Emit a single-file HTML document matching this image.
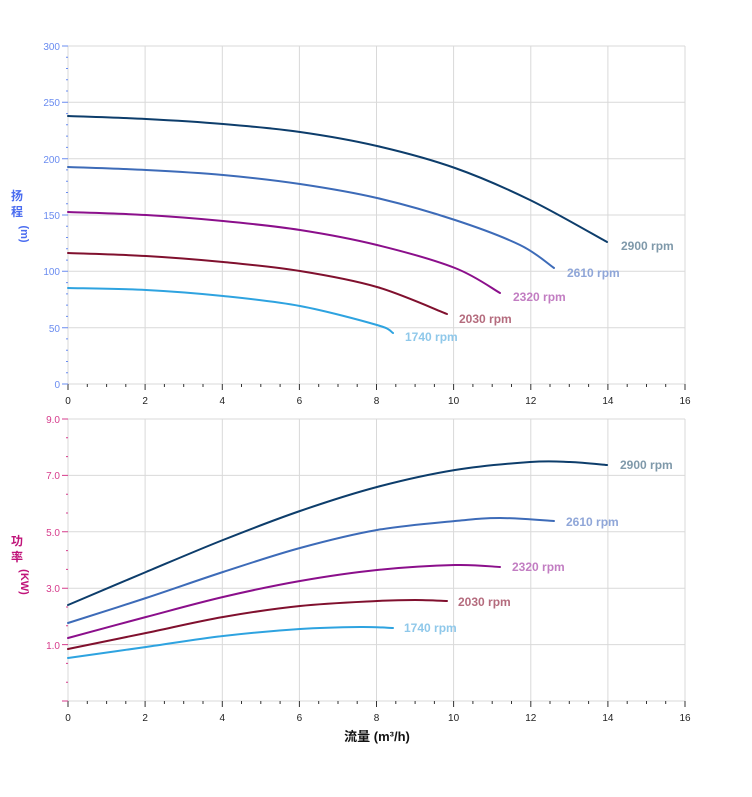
<!DOCTYPE html><html><head><meta charset="utf-8"><style>body{margin:0;background:#fff}svg{display:block;font-family:"Liberation Sans","Noto Sans CJK SC",sans-serif}</style></head><body>
<svg id="s" width="752" height="797" viewBox="0 0 752 797">
<g stroke="#d9d9d9" stroke-width="1">
<line x1="68" y1="46" x2="685" y2="46"/><line x1="68" y1="102.3" x2="685" y2="102.3"/><line x1="68" y1="158.7" x2="685" y2="158.7"/><line x1="68" y1="215" x2="685" y2="215"/><line x1="68" y1="271.3" x2="685" y2="271.3"/><line x1="68" y1="327.7" x2="685" y2="327.7"/><line x1="68" y1="384" x2="685" y2="384"/>
<line x1="68" y1="419" x2="685" y2="419"/><line x1="68" y1="475.4" x2="685" y2="475.4"/><line x1="68" y1="531.8" x2="685" y2="531.8"/><line x1="68" y1="588.2" x2="685" y2="588.2"/><line x1="68" y1="644.6" x2="685" y2="644.6"/><line x1="68" y1="701" x2="685" y2="701"/>
<path d="M68 46V384M145.1 46V384M222.3 46V384M299.4 46V384M376.5 46V384M453.6 46V384M530.8 46V384M607.9 46V384M685 46V384"/>
<path d="M68 419V701M145.1 419V701M222.3 419V701M299.4 419V701M376.5 419V701M453.6 419V701M530.8 419V701M607.9 419V701M685 419V701"/>
</g>
<g stroke="#333" stroke-width="1">
<path d="M68 384v6M87.3 384v3M106.6 384v3M125.8 384v3M145.1 384v6M164.4 384v3M183.7 384v3M203 384v3M222.3 384v6M241.5 384v3M260.8 384v3M280.1 384v3M299.4 384v6M318.7 384v3M338 384v3M357.2 384v3M376.5 384v6M395.8 384v3M415.1 384v3M434.4 384v3M453.6 384v6M472.9 384v3M492.2 384v3M511.5 384v3M530.8 384v6M550 384v3M569.3 384v3M588.6 384v3M607.9 384v6M627.2 384v3M646.5 384v3M665.7 384v3M685 384v6"/>
<path d="M68 701v6M87.3 701v3M106.6 701v3M125.8 701v3M145.1 701v6M164.4 701v3M183.7 701v3M203 701v3M222.3 701v6M241.5 701v3M260.8 701v3M280.1 701v3M299.4 701v6M318.7 701v3M338 701v3M357.2 701v3M376.5 701v6M395.8 701v3M415.1 701v3M434.4 701v3M453.6 701v6M472.9 701v3M492.2 701v3M511.5 701v3M530.8 701v6M550 701v3M569.3 701v3M588.6 701v3M607.9 701v6M627.2 701v3M646.5 701v3M665.7 701v3M685 701v6"/>
</g>
<g stroke="#6a8cf0" stroke-width="1">
<path d="M62 46h6M66 57.3h2M66 68.5h2M66 79.8h2M66 91h2M62 102.3h6M66 113.6h2M66 124.8h2M66 136.1h2M66 147.4h2M62 158.7h6M66 169.9h2M66 181.2h2M66 192.5h2M66 203.7h2M62 215h6M66 226.3h2M66 237.5h2M66 248.8h2M66 260.1h2M62 271.3h6M66 282.6h2M66 293.9h2M66 305.1h2M66 316.4h2M62 327.7h6M66 338.9h2M66 350.2h2M66 361.5h2M66 372.7h2M62 384h6"/>
</g>
<g stroke="#d63c8c" stroke-width="1">
<path d="M62 419h6M66 437.8h2M66 456.6h2M62 475.4h6M66 494.2h2M66 513h2M62 531.8h6M66 550.6h2M66 569.4h2M62 588.2h6M66 607h2M66 625.8h2M62 644.6h6M66 663.4h2M66 682.2h2M62 701h6"/>
</g>
<g font-size="10" fill="#6a8cf0" text-anchor="end">
<text x="60" y="50">300</text><text x="60" y="106">250</text><text x="60" y="163">200</text><text x="60" y="219">150</text><text x="60" y="275">100</text><text x="60" y="332">50</text><text x="60" y="388">0</text>
</g>
<g font-size="10" fill="#d63c8c" text-anchor="end">
<text x="60" y="423">9.0</text><text x="60" y="479">7.0</text><text x="60" y="536">5.0</text><text x="60" y="592">3.0</text><text x="60" y="649">1.0</text>
</g>
<g font-size="10" fill="#222" text-anchor="middle">
<text x="68" y="404">0</text><text x="145.1" y="404">2</text><text x="222.3" y="404">4</text><text x="299.4" y="404">6</text><text x="376.5" y="404">8</text><text x="453.6" y="404">10</text><text x="530.8" y="404">12</text><text x="607.9" y="404">14</text><text x="685" y="404">16</text>
<text x="68" y="721">0</text><text x="145.1" y="721">2</text><text x="222.3" y="721">4</text><text x="299.4" y="721">6</text><text x="376.5" y="721">8</text><text x="453.6" y="721">10</text><text x="530.8" y="721">12</text><text x="607.9" y="721">14</text><text x="685" y="721">16</text>
</g>
<g font-size="12" font-weight="bold" fill="#4a6cf0" text-anchor="middle">
<text x="17" y="200">扬</text><text x="17" y="216">程</text><text transform="translate(21,234) rotate(90)" font-size="11">(m)</text>
</g>
<g font-size="12" font-weight="bold" fill="#c0147a" text-anchor="middle">
<text x="17" y="545">功</text><text x="17" y="561">率</text><text transform="translate(21,582) rotate(90)" font-size="11">(KW)</text>
</g>
<text x="377" y="741" font-size="13" font-weight="bold" fill="#111" text-anchor="middle">流量 (m³/h)</text>
<g id="c" fill="none" stroke-width="2" stroke-linecap="round" stroke-linejoin="round"></g>
<g font-size="12" font-weight="bold">
<text x="621" y="250" fill="#7f99aa">2900 rpm</text><text x="567" y="277" fill="#8fa6d8">2610 rpm</text><text x="513" y="301" fill="#c27dc2">2320 rpm</text><text x="459" y="323" fill="#b46b7d">2030 rpm</text><text x="405" y="341" fill="#8fc8ea">1740 rpm</text>
<text x="620" y="469" fill="#7f99aa">2900 rpm</text><text x="566" y="526" fill="#8fa6d8">2610 rpm</text><text x="512" y="571" fill="#c27dc2">2320 rpm</text><text x="458" y="606" fill="#b46b7d">2030 rpm</text><text x="404" y="632" fill="#8fc8ea">1740 rpm</text>
</g>
</svg>
<script>
var D=[["#0d3d6b",[[68,116],[146,119],[223,124],[300,132],[377,146],[455,168],[530,200],[607,242]]],
["#3d6bb8",[[68,167],[146,170],[223,175],[300,184],[377,198],[455,220],[520,245],[554,268]]],
["#8b0f8b",[[68,212],[146,215],[223,221],[300,230],[377,245],[455,268],[500,293]]],
["#80102e",[[68,253],[146,256],[223,262],[300,271],[377,287],[447,314]]],
["#2ea3e0",[[68,288],[146,290],[223,296],[300,306],[377,325],[393,333]]],
["#0d3d6b",[[68,605],[146,572],[223,540],[300,511],[377,487],[455,470],[530,462],[570,462],[607,465]]],
["#3d6bb8",[[68,623],[146,598],[223,572],[300,548],[377,530],[455,521],[500,518],[554,521]]],
["#8b0f8b",[[68,638],[146,617],[223,597],[300,581],[377,570],[455,565],[500,567]]],
["#80102e",[[68,649],[146,633],[223,617],[300,606],[377,601],[415,600],[447,601]]],
["#2ea3e0",[[68,658],[146,647],[223,636],[300,629],[360,627],[393,628]]]];
var g=document.getElementById("c"),h="";
D.forEach(function(s){var p=s[1],d="M"+p[0][0]+" "+p[0][1];
for(var i=0;i<p.length-1;i++){var a=p[i-1]||p[i],b=p[i],c=p[i+1],e=p[i+2]||c;
d+="C"+(b[0]+(c[0]-a[0])/6)+" "+(b[1]+(c[1]-a[1])/6)+" "+(c[0]-(e[0]-b[0])/6)+" "+(c[1]-(e[1]-b[1])/6)+" "+c[0]+" "+c[1];}
h+='<path stroke="'+s[0]+'" d="'+d+'"/>';});
g.innerHTML=h;
</script>
</body></html>
